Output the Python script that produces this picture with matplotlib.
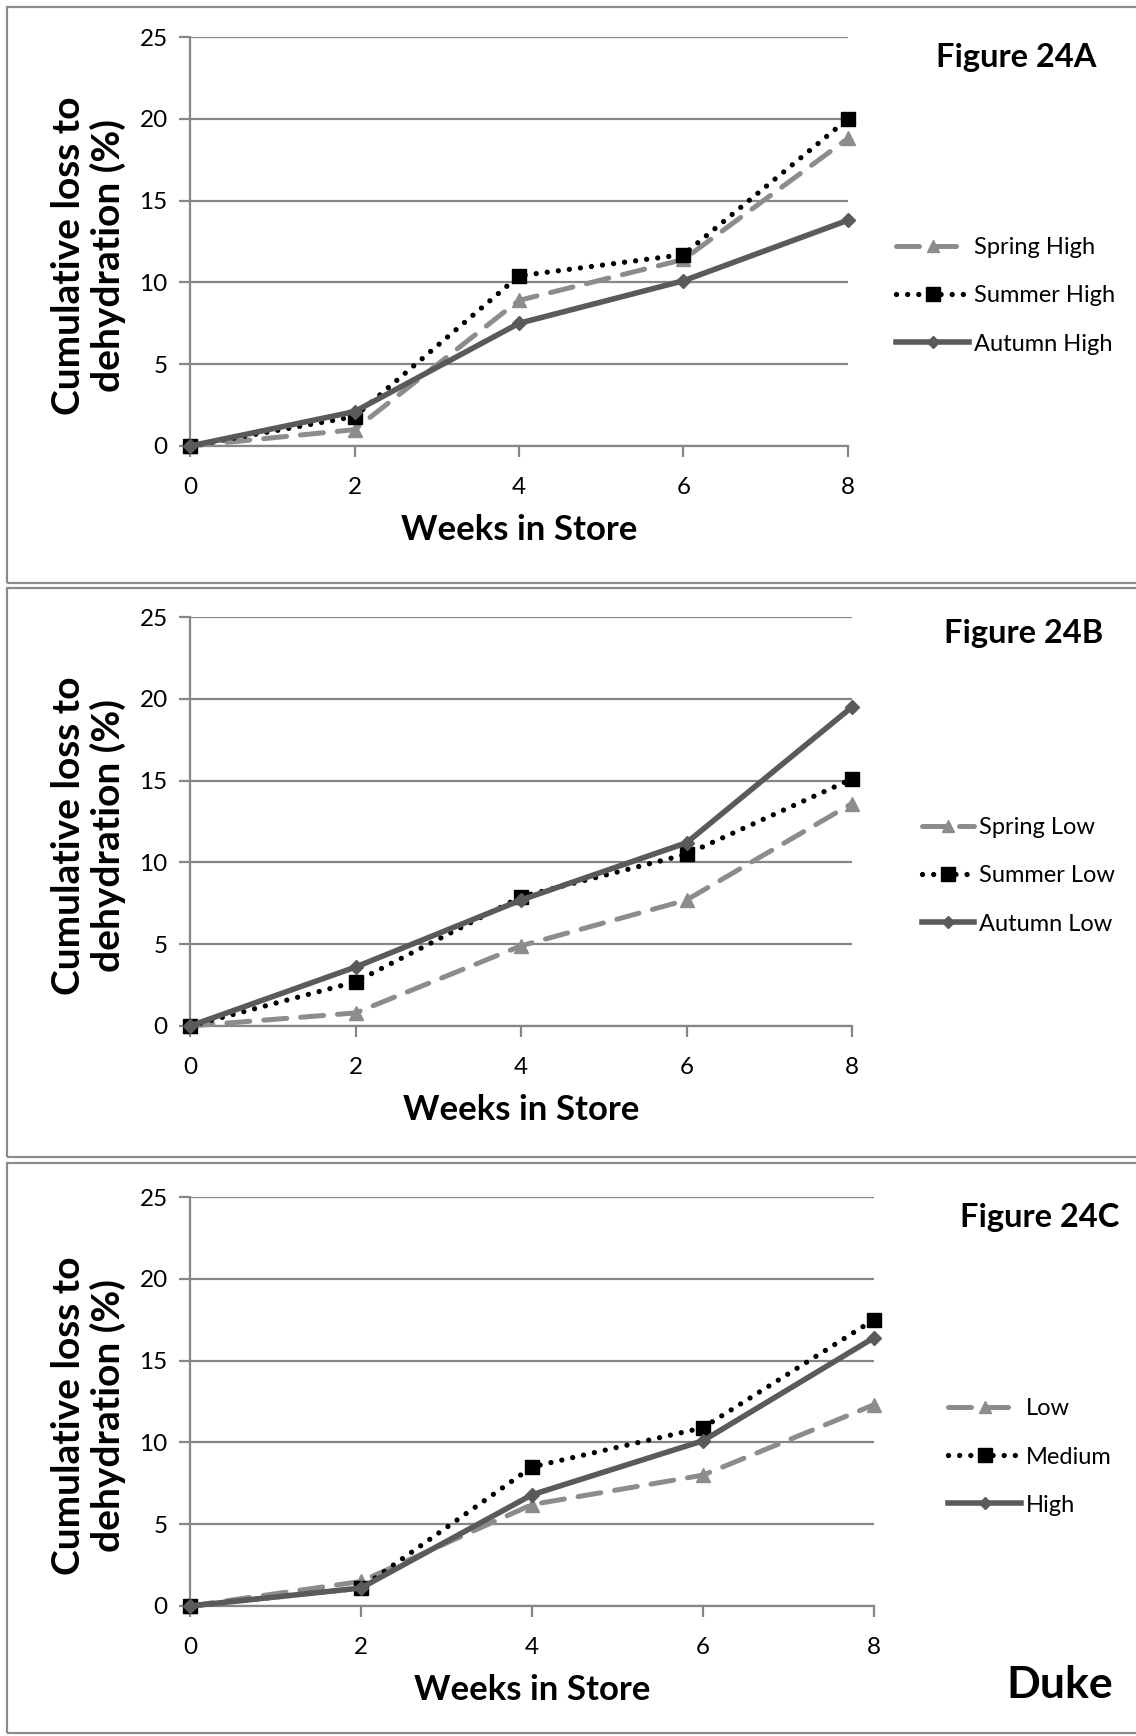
import numpy as np
import matplotlib
matplotlib.use("Agg")
import matplotlib.pyplot as plt
from matplotlib.patches import Rectangle

plt.rcParams['font.family'] = ['Lato', 'DejaVu Sans']

# ---- data ----
weeks = [0, 2, 4, 6, 8]

# Figure 24A
labels_a = ["Spring High", "Summer High", "Autumn High"]
spring_high = [0, 1.0, 8.9, 11.4, 18.8]
summer_high = [0, 1.8, 10.4, 11.7, 20.0]
autumn_high = [0, 2.1, 7.5, 10.1, 13.8]

# Figure 24B
labels_b = ["Spring Low", "Summer Low", "Autumn Low"]
spring_low = [0, 0.8, 4.9, 7.7, 13.6]
summer_low = [0, 2.7, 7.9, 10.5, 15.1]
autumn_low = [0, 3.6, 7.7, 11.2, 19.5]

# Figure 24C
labels_c = ["Low", "Medium", "High"]
low = [0, 1.5, 6.2, 8.0, 12.3]
medium = [0, 1.1, 8.5, 10.9, 17.5]
high = [0, 1.1, 6.8, 10.1, 16.4]

yticks = [0, 5, 10, 15, 20, 25]

W, H = 1136, 1736
fig = plt.figure(figsize=(W / 100, H / 100), dpi=100)

GRID = "#868686"
LIGHT = "#8c8c8c"
DARK = "#5a5a5a"


def px_axes(left, right, top, bottom):
    return fig.add_axes([left / W, 1 - bottom / H, (right - left) / W, (bottom - top) / H])


def draw_panel(ax, series, labels, title, title_xy, leg_xy, handle_len):
    s1, s2, s3 = series
    ax.plot(weeks, s1, color=LIGHT, lw=3.6, linestyle=(0, (4.6, 2.8)),
            dash_capstyle='round', marker='^', ms=10, mec=LIGHT, mfc=LIGHT,
            label=labels[0], zorder=3, clip_on=False)
    ax.plot(weeks, s2, color='black', lw=3.8, linestyle=(0, (0.01, 2.1)),
            dash_capstyle='round', marker='s', ms=10.5, mec='black', mfc='black',
            label=labels[1], zorder=4, clip_on=False)
    ax.plot(weeks, s3, color=DARK, lw=4.0, marker='D', ms=7, mec=DARK, mfc=DARK,
            label=labels[2], zorder=5, clip_on=False)

    ax.set_xlim(0, 8)
    ax.set_ylim(0, 25)
    ax.set_xticks(weeks)
    ax.set_yticks(yticks)
    ax.grid(axis='y', color=GRID, lw=1.6)
    ax.set_axisbelow(True)
    for sp in ['top', 'right']:
        ax.spines[sp].set_visible(False)
    for sp in ['left', 'bottom']:
        ax.spines[sp].set_color(GRID)
        ax.spines[sp].set_linewidth(1.6)
    ax.tick_params(axis='both', colors=GRID, length=8, width=1.6, labelcolor='black',
                   labelsize=17.5)
    ax.tick_params(axis='x', pad=14)
    ax.tick_params(axis='y', pad=8)
    ax.set_xlabel("Weeks in Store", fontsize=25, fontweight='bold', labelpad=12)
    ax.set_ylabel("Cumulative loss to\ndehydration (%)", fontsize=28, fontweight='bold',
                  labelpad=10, linespacing=1.1)
    ax.yaxis.label.set_y(0.465)

    fig.text(title_xy[0] / W, 1 - title_xy[1] / H, title, fontsize=23.5, fontweight='bold',
             ha='center', va='center')
    ax.legend(loc='center left', bbox_to_anchor=(leg_xy[0] / W, 1 - leg_xy[1] / H),
              bbox_transform=fig.transFigure, frameon=False, fontsize=17,
              handlelength=handle_len, handletextpad=0.2, labelspacing=1.15,
              borderaxespad=0, borderpad=0, markerscale=0.9)


# panel frames
for top, bottom in [(7, 583), (588, 1157), (1163, 1733)]:
    fig.patches.append(Rectangle((7 / W, 1 - bottom / H), 1.2, (bottom - top) / H,
                                 transform=fig.transFigure, fill=False,
                                 edgecolor="#8a8a8a", lw=1.6, clip_on=False))

ax_a = px_axes(190, 848, 37, 446)
draw_panel(ax_a, (spring_high, summer_high, autumn_high), labels_a, "Figure 24A",
           (1016, 58), (896, 296), 3.1)

ax_b = px_axes(190, 852, 617, 1026)
draw_panel(ax_b, (spring_low, summer_low, autumn_low), labels_b, "Figure 24B",
           (1024, 633), (922, 876), 2.2)

ax_c = px_axes(190, 874, 1197, 1606)
draw_panel(ax_c, (low, medium, high), labels_c, "Figure 24C",
           (1040, 1218), (948, 1457), 3.1)

fig.text(1060 / W, 1 - 1685 / H, "Duke", fontsize=32, fontweight='bold',
         ha='center', va='center')

fig.savefig("out.png", dpi=100)
